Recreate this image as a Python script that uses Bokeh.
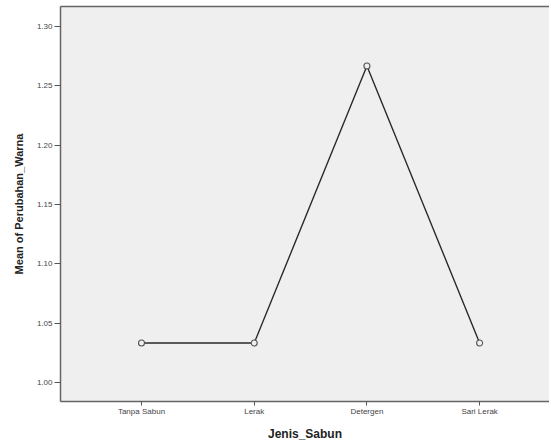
from bokeh.plotting import figure
from bokeh.models import FixedTicker, Range1d, LinearAxis
from bokeh.embed import file_html
from bokeh.resources import INLINE

categories = ["Tanpa Sabun", "Lerak", "Detergen", "Sari Lerak"]
means = [1.0333, 1.0333, 1.2667, 1.0333]
y_ticks = [1.00, 1.05, 1.10, 1.15, 1.20, 1.25, 1.30]
y_tick_labels = ["1.00", "1.05", "1.10", "1.15", "1.20", "1.25", "1.30"]

xs = list(range(len(categories)))

p = figure(width=549, height=444, output_backend="svg", toolbar_location=None,
           x_range=Range1d(-0.7187, 3.620), y_range=Range1d(0.98399, 1.31685),
           min_border_left=60, min_border_right=0, min_border_top=6, min_border_bottom=43)

p.background_fill_color = "#efefef"
p.border_fill_color = "white"
p.outline_line_color = None
p.xgrid.visible = False
p.ygrid.visible = False

p.line(xs, means, line_color="#2a2a2a", line_width=1.4)
p.scatter(xs, means, marker="circle", size=6, fill_color="#efefef",
          line_color="#555555", line_width=1.1)

bottom = p.below[0]
left = p.left[0]

top_axis = LinearAxis(ticker=FixedTicker(ticks=[]), axis_line_color="#666666",
                      axis_line_width=1.5, major_tick_line_color=None,
                      minor_tick_line_color=None, major_label_standoff=0,
                      major_label_text_font_size="1px")
p.add_layout(top_axis, "above")

font = "Liberation Sans"
bottom.ticker = FixedTicker(ticks=xs)
bottom.major_label_overrides = {i: c for i, c in enumerate(categories)}
left.ticker = FixedTicker(ticks=y_ticks)
left.major_label_overrides = {t: l for t, l in zip(y_ticks, y_tick_labels)}

for ax in (bottom, left):
    ax.axis_line_color = "#666666"
    ax.axis_line_width = 1.5
    ax.major_tick_line_color = "#555555"
    ax.minor_tick_line_color = None
    ax.major_label_text_font = font
    ax.major_label_text_font_size = "8px"
    ax.major_label_text_color = "#444444"
    ax.axis_label_text_font = font
    ax.axis_label_text_font_style = "bold"
    ax.axis_label_text_color = "#222222"

left.major_tick_out = 6
left.major_tick_in = 0
bottom.major_tick_out = 4
bottom.major_tick_in = 0
left.major_label_standoff = 2
bottom.major_label_standoff = 1

bottom.axis_label = "Jenis_Sabun"
left.axis_label = "Mean of Perubahan_Warna"
bottom.axis_label_text_font_size = "12px"
left.axis_label_text_font_size = "11px"
bottom.axis_label_standoff = 8
left.axis_label_standoff = 9

open("out.html", "w").write(file_html(p, INLINE))
